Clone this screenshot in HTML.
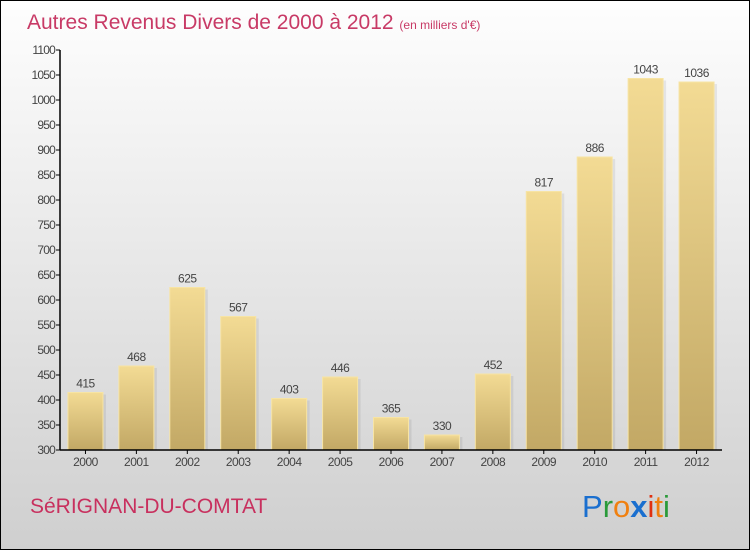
<!DOCTYPE html>
<html><head><meta charset="utf-8"><style>
body{margin:0;width:750px;height:550px;overflow:hidden}
#c{position:absolute;left:0;top:0;width:748px;height:548px;border:1px solid #000;background:linear-gradient(#fefefe,#cfcfcf)}
svg{position:absolute;left:0;top:0}
text{font-family:"Liberation Sans",sans-serif}
</style></head><body>
<div id="c"></div>
<svg id="s" width="750" height="550">
<defs>
<linearGradient id="g" x1="0" y1="0" x2="0" y2="1"><stop offset="0" stop-color="#f3db94"/><stop offset="1" stop-color="#c2a865"/></linearGradient>
</defs>
<text x="27" y="29" font-size="21" fill="#c83a66">Autres Revenus Divers de 2000 à 2012 <tspan font-size="12">(en milliers d'€)</tspan></text>
<text x="30" y="513" font-size="21" fill="#c8305e">SéRIGNAN-DU-COMTAT</text>
<g font-size="31">
<text x="582" y="517" fill="#1a6fcf">P<tspan fill="#2a9a3a">r</tspan><tspan fill="#f08010">o</tspan><tspan fill="#1a6fcf" font-weight="bold">x</tspan><tspan fill="#e03010">i</tspan><tspan fill="#f08010">t</tspan><tspan fill="#2a9a3a">i</tspan></text>
</g>
<g id="plot"></g>
</svg>
<script>
const years=["2000","2001","2002","2003","2004","2005","2006","2007","2008","2009","2010","2011","2012"];
const values=[415,468,625,567,403,446,365,330,452,817,886,1043,1036];
const ticks=[300,350,400,450,500,550,600,650,700,750,800,850,900,950,1000,1050,1100];
const NS="http://www.w3.org/2000/svg";
const g=document.getElementById('plot');
const x0=60,x1=722,yTop=50,yBot=450,vMin=300,vMax=1100;
const slot=(x1-x0)/years.length;
const y=v=>yBot-(v-vMin)/(vMax-vMin)*(yBot-yTop);
const xc=i=>x0+slot*(i+0.5);
function mk(t,a){const e=document.createElementNS(NS,t);for(const k in a)e.setAttribute(k,a[k]);g.appendChild(e);return e;}
ticks.forEach(t=>{
 const l=mk('line',{x1:x0-4,x2:x0,y1:y(t),y2:y(t),stroke:'#000'});
 
 
 const tx=mk('text',{x:x0-5,y:y(t)+4,'font-size':12,'text-anchor':'end',fill:'#444','letter-spacing':'-0.8'});
 tx.textContent=t;
 
 
});
values.forEach((v,i)=>{
 const bw=35,bx=xc(i)-bw/2;
 const sh=mk('rect',{x:bx+3,y:y(v)+2,width:bw,height:yBot-y(v)-2,fill:'#000',opacity:0.07});
 
 
 const r=mk('rect',{x:bx,y:y(v),width:bw,height:yBot-y(v),fill:'url(#g)',stroke:'#f7e4a4','stroke-width':1});
 
 
 const t=mk('text',{x:xc(i),y:y(v)-5,'font-size':12,'text-anchor':'middle',fill:'#444','letter-spacing':'-0.5'});
 t.textContent=v;
 
 
 const tk=mk('line',{x1:xc(i),x2:xc(i),y1:yBot,y2:yBot+4,stroke:'#000'});
 
 
 const xl=mk('text',{x:xc(i),y:yBot+16,'font-size':12,'text-anchor':'middle',fill:'#444','letter-spacing':'-0.5'});
 xl.textContent=years[i];
 
 
});
const ya=mk('line',{x1:x0,x2:x0,y1:yTop,y2:yBot,stroke:'#000','stroke-width':1.5});


const xa=mk('line',{x1:x0,x2:x1,y1:yBot,y2:yBot,stroke:'#000','stroke-width':1.5});


</script>
</body></html>
